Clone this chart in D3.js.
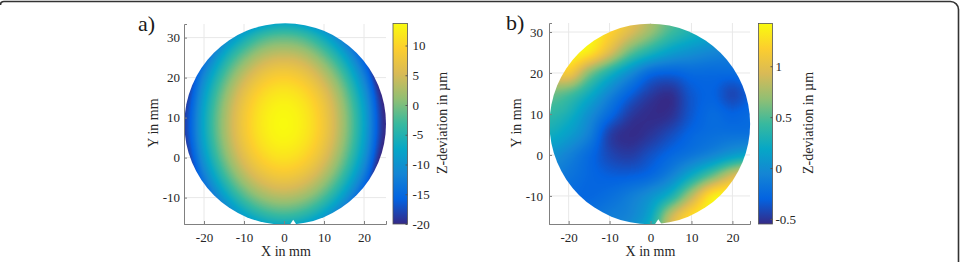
<!DOCTYPE html>
<html>
<head>
<meta charset="utf-8">
<script src="https://cdn.jsdelivr.net/npm/d3@7"></script>
<style>
  body { margin: 0; background: #fff; }
  svg text { font-family: "Liberation Serif", "Times New Roman", serif !important; }
</style>
</head>
<body>
<script>
// grid nodes of the measured surface, in mm
const gridX = [-25, -20, -15, -10, -5, 0, 5, 10, 15, 20, 25];
const gridY = [35, 30, 25, 20, 15, 10, 5, 0, -5, -10, -15, -20];

// a) Z-deviation in µm, rows follow gridY, columns follow gridX
const zA = [
  [-40, -29, -20, -14, -10.5, -9, -10.5, -14.5, -21, -30, -42],
  [-33, -21.5, -12.5, -6.5, -2.5, -1.3, -2.6, -6.8, -13.5, -22.5, -34.5],
  [-27, -15.5, -6.5, -0.3, 3.6, 4.8, 3.5, -0.6, -7.2, -16.5, -28.5],
  [-22.5, -11, -2.2, 4.2, 8.1, 9.4, 8, 3.9, -2.6, -12, -24],
  [-20, -8.4, 0.6, 7.1, 11, 12.3, 10.9, 6.9, 0.3, -9, -21],
  [-18.8, -7.2, 1.8, 8.3, 12.2, 13.5, 12.1, 8.1, 1.5, -7.7, -19.8],
  [-19, -7.5, 1.5, 8, 11.9, 13.2, 11.8, 7.8, 1.2, -8, -20],
  [-21, -9.4, -0.4, 6.1, 10, 11.3, 9.9, 5.9, -0.7, -9.8, -22],
  [-24.5, -12.9, -3.9, 2.6, 6.5, 7.8, 6.4, 2.4, -4.2, -13.3, -25.5],
  [-29.5, -18, -9, -2.5, 1.4, 2.7, 1.3, -2.7, -9.3, -18.5, -30.5],
  [-36, -24.7, -15.7, -9.2, -5.4, -4.1, -5.5, -9.5, -16.1, -25.3, -37.5],
  [-44, -33, -24, -17.5, -13.7, -12.4, -13.8, -17.8, -24.4, -33.6, -46]
];

// b) Z-deviation in µm
const zB = [
  [1.2, 1.35, 1.4, 1.3, 1.05, 0.8, 0.55, 0.4, 0.3, 0.2, 0.1],
  [1.3, 1.4, 1.4, 1.2, 0.95, 0.7, 0.45, 0.3, 0.2, 0.1, 0.0],
  [1.3, 1.4, 1.3, 0.95, 0.55, 0.3, 0.12, 0.02, -0.05, -0.1, -0.15],
  [1.0, 1.1, 0.65, 0.3, 0.0, -0.25, -0.3, -0.25, -0.25, -0.25, -0.2],
  [0.6, 0.5, 0.25, -0.05, -0.3, -0.47, -0.52, -0.35, -0.3, -0.42, -0.3],
  [0.4, 0.28, 0.02, -0.25, -0.47, -0.54, -0.52, -0.35, -0.25, -0.3, -0.25],
  [0.25, 0.12, -0.1, -0.45, -0.54, -0.5, -0.4, -0.28, -0.22, -0.2, -0.2],
  [0.05, -0.08, -0.25, -0.42, -0.47, -0.38, -0.27, -0.17, -0.05, 0.1, 0.2],
  [-0.1, -0.18, -0.27, -0.32, -0.32, -0.26, -0.08, 0.22, 0.55, 0.9, 1.1],
  [-0.2, -0.25, -0.27, -0.22, -0.12, 0.03, 0.3, 0.8, 1.3, 1.4, 1.4],
  [-0.25, -0.25, -0.2, -0.12, -0.05, 0.2, 0.85, 1.25, 1.4, 1.4, 1.4],
  [-0.25, -0.25, -0.15, -0.05, 0.05, 0.35, 0.95, 1.3, 1.4, 1.4, 1.4]
];

const xTicks = [-20, -10, 0, 10, 20];
const yTicks = [-10, 0, 10, 20, 30];
const cbTicksA = [-20, -15, -10, -5, 0, 5, 10];
const cbTicksB = [-0.5, 0, 0.5, 1];

// parula-like colormap
const parula = ["#352a87", "#0363e1", "#1485d4", "#06a7c6", "#38b99e",
                "#92bf73", "#d9ba56", "#fcce2e", "#f9fb0e"];

const W = 961, H = 262;
const svg = d3.select("body").append("svg")
  .attr("width", W).attr("height", H);
const defs = svg.append("defs");

// outer frame (top + right edge with rounded corner)
svg.append("path")
  .attr("d", "M0.5,5 Q0.5,1.5 4,1.5 L950.5,1.5 A8,8 0 0 1 958.5,9.5 L958.5,262")
  .attr("fill", "none").attr("stroke", "#333").attr("stroke-width", 1.6);

const interp = d3.piecewise(d3.interpolateRgb, parula);

// catmull-rom sampling of a grid
function cr(p0, p1, p2, p3, t) {
  return p1 + 0.5 * t * (p2 - p0 + t * (2 * p0 - 5 * p1 + 4 * p2 - p3 + t * (3 * (p1 - p2) + p3 - p0)));
}
function sample(z, x, y) {
  const nx = gridX.length, ny = gridY.length;
  const sx = gridX[1] - gridX[0], sy = gridY[0] - gridY[1];
  let fi = Math.max(0, Math.min(nx - 1, (x - gridX[0]) / sx));
  let fj = Math.max(0, Math.min(ny - 1, (gridY[0] - y) / sy));
  const i = Math.min(Math.floor(fi), nx - 2), j = Math.min(Math.floor(fj), ny - 2);
  const tx = fi - i, ty = fj - j;
  const ci = k => Math.max(0, Math.min(nx - 1, k));
  const cj = k => Math.max(0, Math.min(ny - 1, k));
  const rows = [];
  for (let r = -1; r <= 2; r++) {
    const row = z[cj(j + r)];
    rows.push(cr(row[ci(i - 1)], row[ci(i)], row[ci(i + 1)], row[ci(i + 2)], tx));
  }
  return cr(rows[0], rows[1], rows[2], rows[3], ty);
}

const panels = [
  { id: "a", label: "a)", z: zA, zDomain: [-20, 13.7], cbTicks: cbTicksA,
    xDomain: [-25, 25.5], xRange: [184, 386], yDomain: [-16.6, 33.4], yRange: [224, 24],
    wafer: { cx: 0.3, cy: 8.4, r: 25.2 }, notchX: 2.3,
    cbX: 393, cbW: 14.5, cbPad: 5, yPad: 4,
    labelPos: [138, 30.5], yLabelX: 158, cbLabelX: 447 },
  { id: "b", label: "b)", z: zB, zDomain: [-0.55, 1.42], cbTicks: cbTicksB,
    xDomain: [-24.8, 24.3], xRange: [549, 750], yDomain: [-16.85, 32.2], yRange: [224, 23],
    wafer: { cx: -0.17, cy: 7.56, r: 24.5 }, notchX: 1.9,
    cbX: 758.5, cbW: 14, cbPad: 3, yPad: 6,
    labelPos: [506, 30], yLabelX: 521, cbLabelX: 813 }
];

panels.forEach(p => {
  const x = d3.scaleLinear().domain(p.xDomain).range(p.xRange);
  const y = d3.scaleLinear().domain(p.yDomain).range(p.yRange);
  const g = svg.append("g");

  // grid
  g.append("g").selectAll("line").data(xTicks).join("line")
    .attr("x1", d => x(d)).attr("x2", d => x(d))
    .attr("y1", p.yRange[0]).attr("y2", p.yRange[1])
    .attr("stroke", "#e8e8e8");
  g.append("g").selectAll("line").data(yTicks).join("line")
    .attr("y1", d => y(d)).attr("y2", d => y(d))
    .attr("x1", p.xRange[0]).attr("x2", p.xRange[1])
    .attr("stroke", "#e8e8e8");

  // surface rendered to a canvas, clipped to the wafer outline
  const w = p.wafer;
  const px0 = Math.floor(x(w.cx - w.r)) - 2, px1 = Math.ceil(x(w.cx + w.r)) + 2;
  const py0 = Math.floor(y(w.cy + w.r)) - 2, py1 = Math.ceil(y(w.cy - w.r)) + 2;
  const cw = px1 - px0, ch = py1 - py0;
  const canvas = document.createElement("canvas");
  canvas.width = cw; canvas.height = ch;
  const ctx = canvas.getContext("2d");
  const img = ctx.createImageData(cw, ch);
  const lut = d3.range(256).map(k => d3.rgb(interp(k / 255)));
  const [z0, z1] = p.zDomain;
  for (let j = 0; j < ch; j++) {
    const dy = y.invert(py0 + j + 0.5);
    for (let i = 0; i < cw; i++) {
      const dx = x.invert(px0 + i + 0.5);
      const v = sample(p.z, dx, dy);
      const t = Math.max(0, Math.min(1, (v - z0) / (z1 - z0)));
      const c = lut[Math.round(t * 255)];
      const o = (j * cw + i) * 4;
      img.data[o] = c.r; img.data[o + 1] = c.g; img.data[o + 2] = c.b; img.data[o + 3] = 255;
    }
  }
  ctx.putImageData(img, 0, 0);

  defs.append("clipPath").attr("id", "wafer-" + p.id)
    .append("circle")
    .attr("cx", x(w.cx)).attr("cy", y(w.cy))
    .attr("r", x(w.r) - x(0));
  g.append("image")
    .attr("x", px0).attr("y", py0).attr("width", cw).attr("height", ch)
    .attr("preserveAspectRatio", "none")
    .attr("href", canvas.toDataURL())
    .attr("clip-path", `url(#wafer-${p.id})`);

  // wafer notch
  const nb = y(w.cy - w.r);
  g.append("path")
    .attr("d", `M${x(p.notchX) - 4},${nb + 1} L${x(p.notchX)},${nb - 5} L${x(p.notchX) + 4},${nb + 1} Z`)
    .attr("fill", "#fff");

  // axes
  const ax = g.append("g").attr("transform", `translate(0,${p.yRange[0]})`)
    .call(d3.axisBottom(x).tickValues(xTicks).tickSize(-3).tickPadding(9).tickFormat(d => String(d)));
  const ay = g.append("g").attr("transform", `translate(${p.xRange[0]},0)`)
    .call(d3.axisLeft(y).tickValues(yTicks).tickSize(-3).tickPadding(p.yPad).tickFormat(d => String(d)));
  [ax, ay].forEach(a => {
    a.select(".domain").attr("stroke", "#808080");
    a.selectAll(".tick line").attr("stroke", "#808080");
    a.selectAll("text").attr("font-size", 13).attr("fill", "#262626");
  });

  g.append("text")
    .attr("x", (p.xRange[0] + p.xRange[1]) / 2 + 1).attr("y", 256)
    .attr("text-anchor", "middle").attr("font-size", 14).attr("fill", "#262626")
    .text("X in mm");
  g.append("text")
    .attr("transform", `translate(${p.yLabelX},123) rotate(-90)`)
    .attr("text-anchor", "middle").attr("font-size", 14).attr("fill", "#262626")
    .text("Y in mm");

  // colorbar
  const gid = "cb-" + p.id;
  const grad = defs.append("linearGradient").attr("id", gid)
    .attr("x1", 0).attr("y1", 1).attr("x2", 0).attr("y2", 0);
  parula.forEach((c, k) => grad.append("stop")
    .attr("offset", k / (parula.length - 1)).attr("stop-color", c));
  const cbY = d3.scaleLinear().domain(p.zDomain).range([224, 23.5]);
  g.append("rect")
    .attr("x", p.cbX).attr("y", cbY(p.zDomain[1]))
    .attr("width", p.cbW).attr("height", cbY(p.zDomain[0]) - cbY(p.zDomain[1]))
    .attr("fill", `url(#${gid})`).attr("stroke", "#555").attr("stroke-width", 0.8);
  const cb = g.append("g").attr("transform", `translate(${p.cbX + p.cbW},0)`)
    .call(d3.axisRight(cbY).tickValues(p.cbTicks).tickSize(-2).tickPadding(p.cbPad).tickFormat(d => String(d)));
  cb.select(".domain").remove();
  cb.selectAll(".tick line").attr("stroke", "#555");
  cb.selectAll("text").attr("font-size", 13).attr("fill", "#262626");
  g.append("text")
    .attr("transform", `translate(${p.cbLabelX},123) rotate(-90)`)
    .attr("text-anchor", "middle").attr("font-size", 14).attr("fill", "#262626")
    .text("Z-deviation in µm");

  // panel letter
  g.append("text")
    .attr("x", p.labelPos[0]).attr("y", p.labelPos[1])
    .attr("font-size", 22).attr("fill", "#1a1a1a")
    .text(p.label);
});
</script>
</body>
</html>
